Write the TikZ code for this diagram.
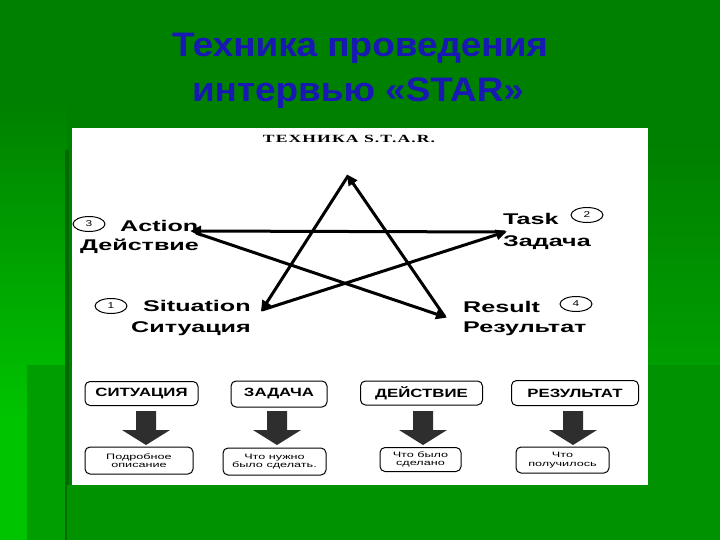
\documentclass[tikz,border=0pt]{standalone}
\usepackage{fontspec}
\setmainfont{Liberation Sans}
\newfontfamily\wfont[FakeStretch=1.4]{Liberation Sans}
\newfontfamily\lfont[FakeStretch=1.62]{Liberation Sans}
\newfontfamily\hfont[FakeStretch=1.6,LetterSpace=10]{Liberation Serif}
\newfontfamily\tfont[FakeStretch=1.085]{Liberation Sans}
\usetikzlibrary{arrows.meta,shapes.geometric}
\definecolor{titleblue}{RGB}{24,24,180}
\definecolor{gdark}{RGB}{0,128,0}
\definecolor{gbright}{RGB}{0,196,0}
\definecolor{gmid}{RGB}{0,158,0}
\definecolor{gbot}{RGB}{0,146,0}
\definecolor{gline}{RGB}{0,105,0}
\begin{document}
\begin{tikzpicture}[x=1pt,y=-1pt,
  lbl/.style={font=\lfont\bfseries\fontsize{15.5}{15.5}\selectfont, inner sep=0},
  circ/.style={draw, ellipse, line width=1pt, minimum width=32, minimum height=15, inner sep=0, font=\wfont\fontsize{8.5}{8.5}\selectfont},
  starline/.style={line width=3pt, -{Triangle[length=11pt,width=10pt]}, shorten >=-2pt},
  topbox/.style={draw, line width=1pt, rounded corners=5pt, inner sep=0, font=\wfont\bfseries\fontsize{12}{12}\selectfont},
  botbox/.style={draw, line width=1pt, rounded corners=5pt, inner sep=0, align=center, font=\lfont\fontsize{7.8}{8.5}\selectfont},
  barrow/.style={fill=black!82},
  ttl/.style={font=\tfont\bfseries\fontsize{34}{34}\selectfont, inner sep=0}]
\useasboundingbox (0,0) rectangle (720,540);
% background
\fill[gdark] (0,0) rectangle (720,540);
\shade[top color=gdark, bottom color=gbright] (0,100) rectangle (67,420);
\fill[gbright] (0,419) rectangle (67,540);
\fill[gmid] (27,365) rectangle (67,540);
\fill[gline] (65,150) rectangle (69,540);
\shade[top color=gdark, bottom color=gmid] (648,145) rectangle (720,365);
\fill[gbot] (648,365) rectangle (720,540);
\fill[gbot] (67,485) rectangle (648,540);
\fill[white] (72,128) rectangle (648,485);
% title
\node[ttl, text=titleblue, anchor=base] (t1) at (360,57) {Техника проведения};
\node[ttl, text=titleblue, anchor=base] (t2) at (358,102) {интервью «STAR»};
% header
\node[font=\hfont\bfseries\fontsize{11}{11}\selectfont, inner sep=0, anchor=base] (hd) at (349,143) {ТЕХНИКА S.T.A.R.};
% star
\coordinate (T) at (348,176);
\coordinate (S) at (262,310);
\coordinate (K) at (505,232);
\coordinate (A) at (192,231);
\coordinate (R) at (445,317);
\coordinate (A2) at (196,233);
\draw[starline] (S) -- (K);
\draw[starline] (K) -- (A);
\draw[starline] (A2) -- (R);
\draw[starline] (R) -- (T);
\draw[starline] (T) -- (S);
% labels
\node[circ] (c3) at (89,224) {3};
\node[lbl, anchor=base west] (act) at (120,231) {Action};
\node[lbl, anchor=base west] (dei) at (80,250) {Действие};
\node[lbl, anchor=base west] (task) at (503,225) {Task};
\node[circ] (c2) at (587,215) {2};
\node[lbl, anchor=base west] (zad) at (503,247) {Задача};
\node[circ] (c1) at (111,306) {1};
\node[lbl, anchor=base west] (sit) at (143,311) {Situation};
\node[lbl, anchor=base west] (sit2) at (131,332) {Ситуация};
\node[lbl, anchor=base west] (res) at (463,312) {Result};
\node[circ] (c4) at (576,304) {4};
\node[lbl, anchor=base west] (res2) at (463,332) {Результат};
% top boxes
\node[topbox, minimum width=113, minimum height=24] (b1) at (141.5,393.5) {СИТУАЦИЯ};
\node[topbox, minimum width=96, minimum height=26] (b2) at (279,394) {ЗАДАЧА};
\node[topbox, minimum width=122, minimum height=24] (b3) at (421.5,393) {ДЕЙСТВИЕ};
\node[topbox, minimum width=127, minimum height=25] (b4) at (575,393) {РЕЗУЛЬТАТ};
% block arrows
\foreach \cx in {146,277,423,573} {
  \fill[barrow] (\cx-10,411) -- (\cx+10,411) -- (\cx+10,430) -- (\cx+24,430) -- (\cx,445) -- (\cx-24,430) -- (\cx-10,430) -- cycle;
}
% bottom boxes
\node[botbox, minimum width=108, minimum height=27] (d1) at (139,460.5) {Подробное\\описание};
\node[botbox, minimum width=103, minimum height=27] (d2) at (274.5,461.5) {Что нужно\\было сделать.};
\node[botbox, minimum width=81, minimum height=24] (d3) at (420.5,459.5) {Что было\\сделано};
\node[botbox, minimum width=93, minimum height=26] (d4) at (562.5,460) {Что\\получилось};
\end{tikzpicture}
\end{document}
